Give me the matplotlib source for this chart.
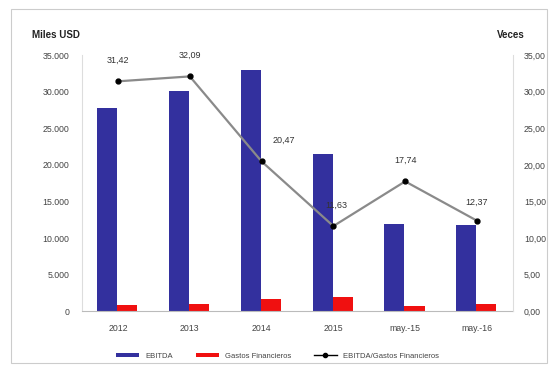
import matplotlib.pyplot as plt
import numpy as np
from matplotlib.ticker import FuncFormatter
from matplotlib.patches import Rectangle

plt.rcParams['font.family'] = ['Liberation Sans', 'DejaVu Sans']

# Datos
periodos = ['2012', '2013', '2014', '2015', 'may.-15', 'may.-16']
ebitda = [27750, 30150, 32950, 21500, 11900, 11800]
gastos_fin = [850, 950, 1600, 1900, 650, 950]
cobertura = [31.42, 32.09, 20.47, 11.63, 17.74, 12.37]

x = np.arange(len(periodos))

fig = plt.figure(figsize=(5.55, 3.7), dpi=100)
ax = fig.add_axes([0.148, 0.159, 0.776, 0.692])
ax2 = ax.twinx()

# Barras
ax.bar(x - 0.15, ebitda, width=0.28, color='#33309E', label='EBITDA', zorder=2)
ax.bar(x + 0.13, gastos_fin, width=0.28, color='#F01010', label='Gastos Financieros', zorder=2)

ax.set_xlim(-0.5, len(periodos) - 0.5)
ax.set_ylim(0, 35000)
ax.set_yticks(np.arange(0, 35001, 5000))
ax.yaxis.set_major_formatter(FuncFormatter(lambda v, p: f'{int(v):,}'.replace(',', '.')))
ax.set_xticks(x)
ax.set_xticklabels(periodos)

# Linea de cobertura
ax2.plot(x, cobertura, color='#8A8A8A', linewidth=1.6, zorder=3)
ax2.plot(x, cobertura, linestyle='none', marker='o', markersize=3.5, color='black', zorder=4)
ax2.set_ylim(0, 35)
ax2.set_yticks(np.arange(0, 35.01, 5))
ax2.yaxis.set_major_formatter(FuncFormatter(lambda v, p: f'{v:.2f}'.replace('.', ',')))

# Etiquetas de datos
desplaz = [(0, 12), (0, 12), (16, 12), (2, 12), (0, 12), (0, 10)]
for i, v in enumerate(cobertura):
    ax2.annotate(f'{v:.2f}'.replace('.', ','), (x[i], v), textcoords='offset points',
                 xytext=desplaz[i], ha='center', va='bottom', fontsize=6.5, color='#333333')

# Estilo de ejes
for a in (ax, ax2):
    for s in a.spines.values():
        s.set_visible(False)
    a.tick_params(labelsize=6.3, colors='#444444', length=0)
ax.spines['bottom'].set_visible(True)
ax.spines['bottom'].set_color('#BBBBBB')
ax.spines['left'].set_visible(True)
ax.spines['left'].set_color('#DDDDDD')
ax2.spines['right'].set_visible(True)
ax2.spines['right'].set_color('#DDDDDD')
ax.tick_params(axis='x', pad=9)
ax.tick_params(axis='y', pad=9)
ax2.tick_params(axis='y', pad=8)

fig.text(0.10, 0.898, 'Miles USD', fontsize=7, fontweight='bold', color='#222222', ha='center')
fig.text(0.92, 0.898, 'Veces', fontsize=7, fontweight='bold', color='#222222', ha='center')

# Leyenda
h1, l1 = ax.get_legend_handles_labels()
linea = plt.Line2D([], [], color='black', linewidth=1, marker='o', markersize=3)
fig.legend(h1 + [linea], l1 + ['EBITDA/Gastos Financieros'], loc='center',
           bbox_to_anchor=(0.5, 0.037), ncol=3, frameon=False, fontsize=5.5,
           handlelength=3, handleheight=0.5, columnspacing=3, labelcolor='#444444')

# Marco del grafico
fig.patches.append(Rectangle((0.02, 0.02), 0.965, 0.955, transform=fig.transFigure,
                             fill=False, edgecolor='#CCCCCC', linewidth=0.8))

plt.savefig('out.png', dpi=100)
